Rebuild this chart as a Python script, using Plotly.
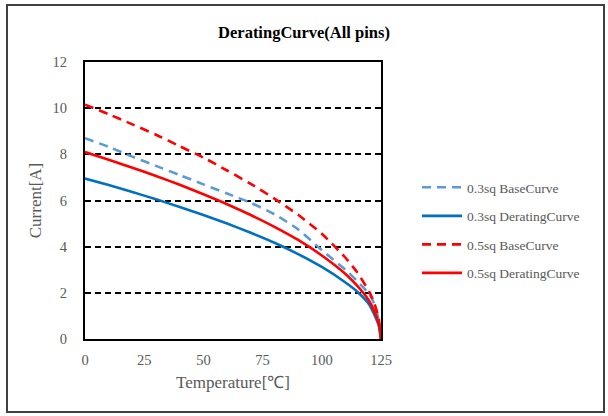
import plotly.graph_objects as go

# Data
temps = [0, 10, 20, 30, 40, 50, 60, 70, 80, 90, 100, 110, 115, 120, 122, 124, 125]
base_03 = [8.70, 8.32, 7.90, 7.50, 7.10, 6.70, 6.30, 5.90, 5.40, 4.75, 3.85, 3.00, 2.50, 1.95, 1.55, 0.85, 0.0]
derate_03 = [6.95, 6.67, 6.37, 6.05, 5.72, 5.37, 5.00, 4.60, 4.17, 3.68, 3.12, 2.45, 2.05, 1.50, 1.10, 0.60, 0.0]
base_05 = [10.15, 9.74, 9.30, 8.85, 8.35, 7.86, 7.30, 6.72, 6.08, 5.38, 4.56, 3.52, 2.88, 2.05, 1.60, 0.90, 0.0]
derate_05 = [8.10, 7.77, 7.42, 7.06, 6.68, 6.27, 5.84, 5.37, 4.86, 4.29, 3.62, 2.82, 2.30, 1.65, 1.25, 0.70, 0.0]

names = ["0.3sq BaseCurve", "0.3sq DeratingCurve", "0.5sq BaseCurve", "0.5sq DeratingCurve"]
series = [base_03, derate_03, base_05, derate_05]
colors = ["#5B9BD5", "#0070C0", "#FF0000", "#FF0000"]
dashes = ["9px,6px", "solid", "9px,6px", "solid"]

x_ticks = [0, 25, 50, 75, 100, 125]
y_ticks = [0, 2, 4, 6, 8, 10, 12]

FONT = "Liberation Serif, Times New Roman, serif"
GREY = "#595959"

fig = go.Figure()
for i, (nm, ys, c, d) in enumerate(zip(names, series, colors, dashes)):
    fig.add_trace(go.Scatter(
        x=temps, y=ys, name=nm, mode="lines",
        line=dict(color=c, width=2.6, dash=d, shape="spline", smoothing=0.6),
        legendgroup=f"g{i}",
    ))

# plot area geometry (pixels)
W, H = 608, 416
L, R, T, B = 85, 381, 62, 339
pw, ph = R - L, B - T

def px2x(x):
    return (x - L) / pw

def px2y(y):
    return (B - y) / ph

fig.update_layout(
    width=W, height=H,
    margin=dict(l=L, r=W - R, t=T, b=H - B),
    paper_bgcolor="white", plot_bgcolor="white",
    title=dict(text="<b>DeratingCurve(All pins)</b>", x=0.5, xref="container",
               y=1 - 32 / H, yref="container", xanchor="center", yanchor="middle",
               font=dict(family=FONT, size=16.5, color="black")),
    font=dict(family=FONT, color=GREY),
    legend=dict(x=px2x(417), y=px2y(172), xanchor="left", yanchor="top",
                font=dict(family=FONT, size=13.5, color=GREY),
                tracegroupgap=8, itemwidth=40, bgcolor="rgba(0,0,0,0)"),
    showlegend=True,
)

fig.update_xaxes(
    range=[0, 125], tickvals=x_ticks, ticks="", showgrid=False,
    showline=True, linecolor="black", linewidth=2, mirror=True,
    tickfont=dict(family=FONT, size=14.5, color=GREY), ticklabelstandoff=7,
    title=dict(text="Temperature[℃]", font=dict(family=FONT, size=17, color=GREY), standoff=9),
    zeroline=False,
)
fig.update_yaxes(
    range=[0, 12], tickvals=y_ticks, ticks="",
    showgrid=True, gridcolor="black", gridwidth=1.5, griddash="6px,4px",
    showline=True, linecolor="black", linewidth=2, mirror=True,
    tickfont=dict(family=FONT, size=14.5, color=GREY), ticklabelstandoff=13,
    title=dict(text="Current[A]", font=dict(family=FONT, size=17, color=GREY), standoff=7),
    zeroline=False,
)

# outer chart frame
fig.add_shape(type="rect", xref="paper", yref="paper",
              x0=px2x(7), x1=px2x(604), y0=px2y(412), y1=px2y(5),
              line=dict(color="#404040", width=2), fillcolor="rgba(0,0,0,0)", layer="below")

fig.write_html("out.html")
